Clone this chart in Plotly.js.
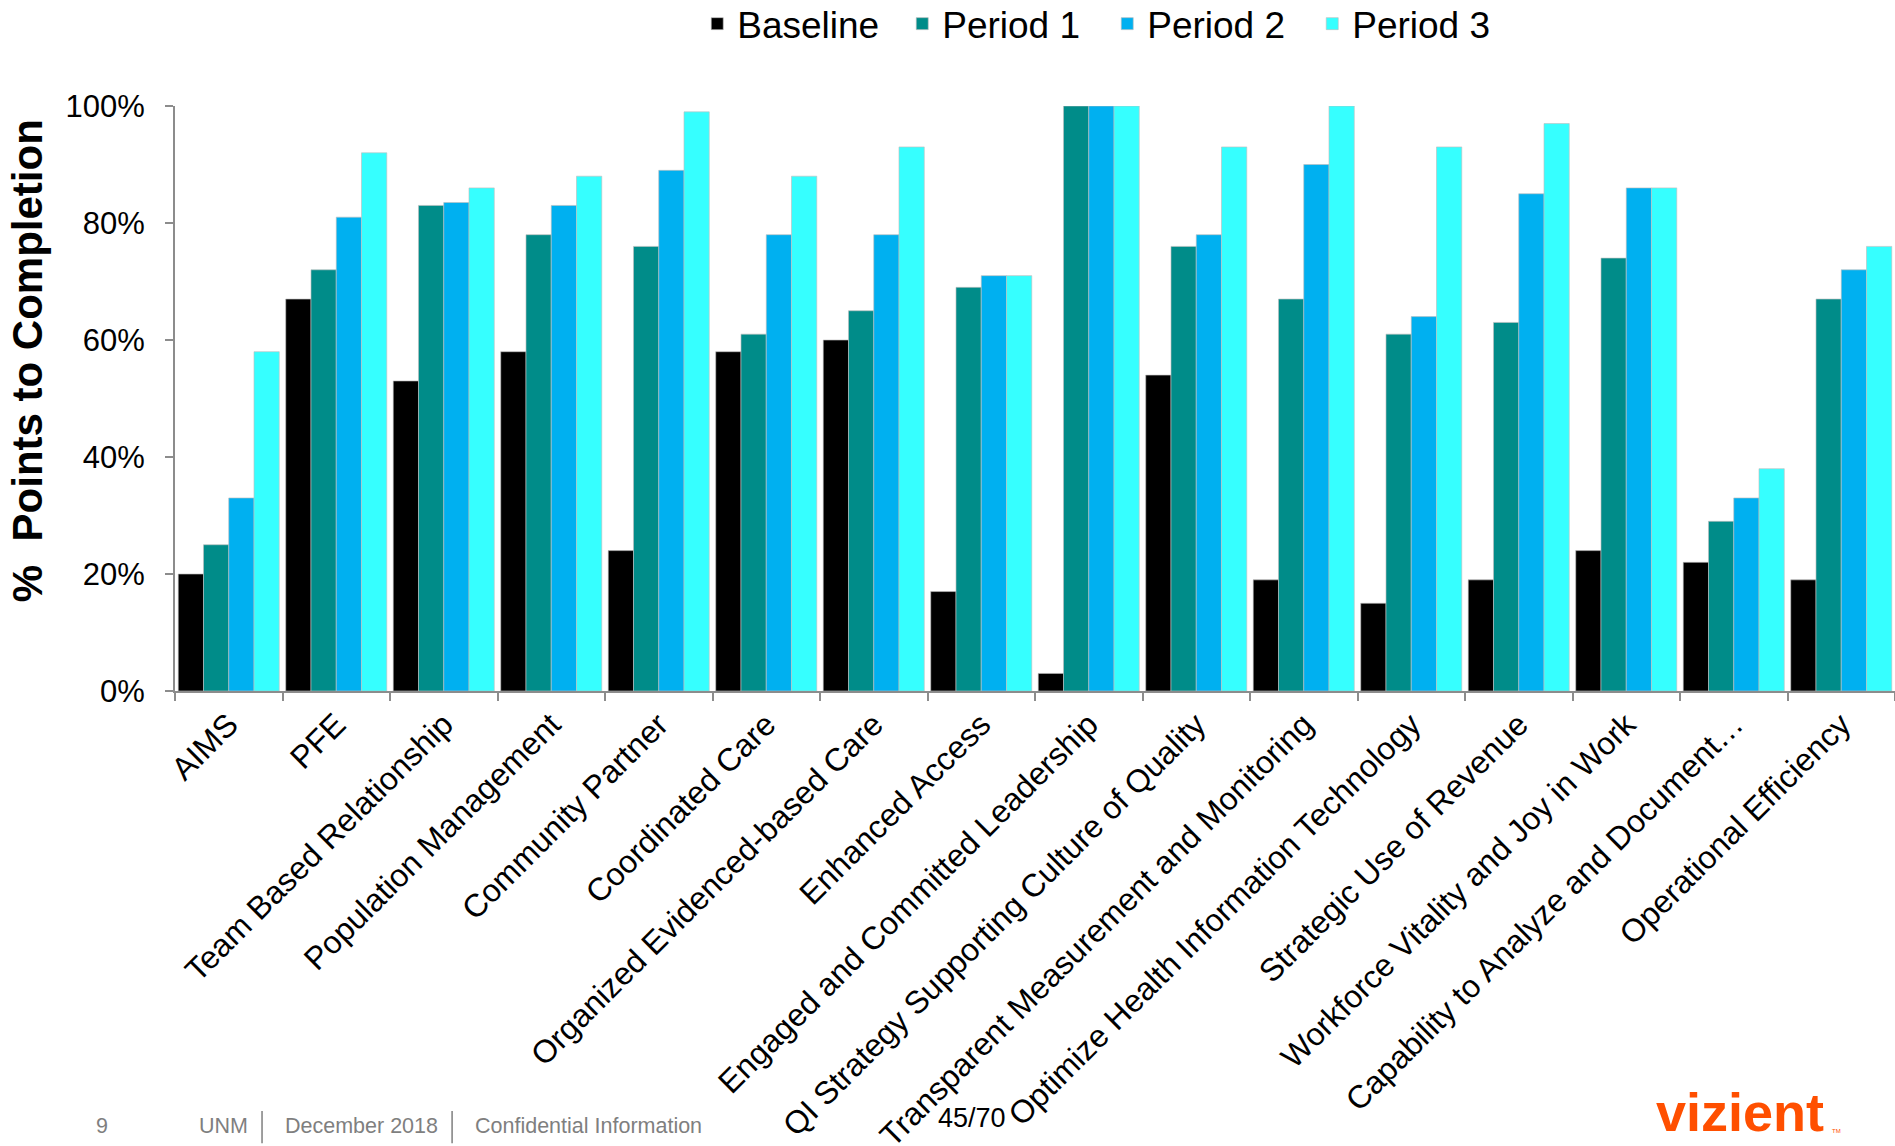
<!DOCTYPE html>
<html>
<head>
<meta charset="utf-8">
<script src="https://cdn.plot.ly/plotly-3.0.1.min.js"></script>
<style>html,body{margin:0;padding:0;background:#fff;}#chart{width:1895px;height:1146px;}</style>
</head>
<body>
<div id="chart"></div>
<script>
const categories = [
  "AIMS", "PFE", "Team Based Relationship", "Population Management",
  "Community Partner", "Coordinated Care", "Organized Evidenced-based Care",
  "Enhanced Access", "Engaged and Committed Leadership",
  "QI Strategy Supporting Culture of Quality",
  "Transparent Measurement and Monitoring",
  "Optimize Health Information Technology", "Strategic Use of Revenue",
  "Workforce Vitality and Joy in Work", "Capability to Analyze and Document…",
  "Operational Efficiency"
];
const baseline = [20, 67, 53, 58, 24, 58, 60, 17, 3, 54, 19, 15, 19, 24, 22, 19];
const period1  = [25, 72, 83, 78, 76, 61, 65, 69, 100, 76, 67, 61, 63, 74, 29, 67];
const period2  = [33, 81, 83.5, 83, 89, 78, 78, 71, 100, 78, 90, 64, 85, 86, 33, 72];
const period3  = [58, 92, 86, 88, 99, 88, 93, 71, 100, 93, 100, 93, 97, 86, 38, 76];
const seriesNames = ["Baseline", "Period 1", "Period 2", "Period 3"];
const yTicks = [0, 20, 40, 60, 80, 100];

const colors = ["#000000", "#008C89", "#00B0F0", "#36FFFF"];
const allSeries = [baseline, period1, period2, period3];

const traces = allSeries.map((vals, i) => ({
  type: "bar",
  name: seriesNames[i],
  x: categories,
  y: vals,
  marker: { color: colors[i], line: { color: "rgba(190,190,190,0.8)", width: 0.8 } },
  hoverinfo: "x+y+name"
}));

const FONT = "Liberation Sans, Arial, sans-serif";
const footFont = { size: 21.5, color: "#7f7f7f", family: FONT };

const layout = {
  width: 1895,
  height: 1146,
  margin: { l: 175, r: 0, t: 106, b: 455, autoexpand: false },
  paper_bgcolor: "#ffffff",
  plot_bgcolor: "#ffffff",
  font: { family: FONT, color: "#000" },
  barmode: "group",
  bargap: 0.06,
  bargroupgap: 0,
  showlegend: true,
  legend: {
    orientation: "h",
    x: 0.542, xanchor: "center",
    y: 1.14, yanchor: "middle",
    font: { family: FONT, size: 37, color: "#000" },
    itemwidth: 30,
    entrywidth: 160,
    entrywidthmode: "pixels",
    traceorder: "normal"
  },
  xaxis: {
    type: "category",
    tickangle: -45,
    tickfont: { size: 32, family: FONT, color: "#000" },
    showline: true,
    linecolor: "#8c8c8c",
    linewidth: 2,
    ticks: "outside",
    tickson: "boundaries",
    ticklen: 8,
    tickwidth: 2,
    tickcolor: "#8c8c8c",
    showgrid: false,
    automargin: false,
    fixedrange: true
  },
  yaxis: {
    range: [0, 100],
    tickvals: yTicks,
    ticktext: yTicks.map(v => v + "%"),
    tickfont: { size: 31, family: FONT, color: "#000" },
    showline: true,
    linecolor: "#8c8c8c",
    linewidth: 2,
    ticks: "outside",
    ticklen: 8,
    tickwidth: 2,
    tickcolor: "#8c8c8c",
    showgrid: false,
    zeroline: false,
    automargin: false,
    ticklabelstandoff: 14,
    fixedrange: true
  },
  annotations: [
    { text: "<b>%  Points to Completion</b>", textangle: -90, xref: "paper", yref: "paper", x: -0.086, y: 0.564, xanchor: "center", yanchor: "middle", showarrow: false, font: { size: 42, color: "#000", family: FONT } },
    { text: "9", xref: "paper", yref: "paper", x: -0.0424, y: -0.744, xanchor: "center", yanchor: "middle", showarrow: false, font: footFont },
    { text: "UNM", xref: "paper", yref: "paper", x: 0.0128, y: -0.744, xanchor: "left", yanchor: "middle", showarrow: false, font: footFont },
    { text: "December 2018", xref: "paper", yref: "paper", x: 0.0628, y: -0.744, xanchor: "left", yanchor: "middle", showarrow: false, font: footFont },
    { text: "Confidential Information", xref: "paper", yref: "paper", x: 0.1733, y: -0.744, xanchor: "left", yanchor: "middle", showarrow: false, font: footFont },
    { text: "45/70", xref: "paper", yref: "paper", x: 0.4634, y: -0.730, xanchor: "center", yanchor: "middle", showarrow: false, font: { size: 27, color: "#000", family: FONT } },
    { text: "<b>vizient</b>", xref: "paper", yref: "paper", x: 0.91, y: -0.719, xanchor: "center", yanchor: "middle", showarrow: false, font: { size: 54, color: "#FF4F00", family: FONT } },
    { text: "TM", xref: "paper", yref: "paper", x: 0.962, y: -0.752, xanchor: "left", yanchor: "middle", showarrow: false, font: { size: 6, color: "#FF4F00", family: FONT } }
  ],
  shapes: [
    { type: "line", xref: "paper", yref: "paper", x0: 0.0506, x1: 0.0506, y0: -0.718, y1: -0.773, line: { color: "#7f7f7f", width: 1.5 } },
    { type: "line", xref: "paper", yref: "paper", x0: 0.1611, x1: 0.1611, y0: -0.718, y1: -0.773, line: { color: "#7f7f7f", width: 1.5 } }
  ]
};

Plotly.newPlot("chart", traces, layout, { displayModeBar: false, staticPlot: true });
</script>
</body>
</html>
